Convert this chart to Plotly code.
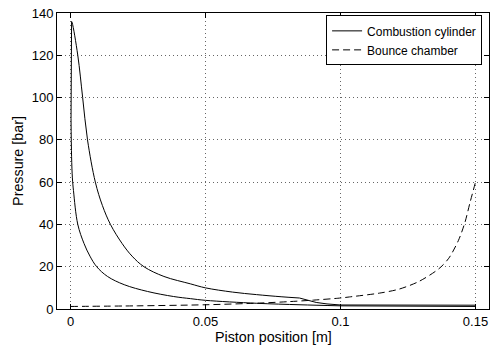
import plotly.graph_objects as go

# Combustion cylinder cycle (piston position [m], pressure [bar])
# compression stroke
comp_x = [0.1, 0.085, 0.069, 0.05, 0.0444, 0.0382, 0.0285, 0.0199, 0.0137,
          0.0097, 0.0072, 0.0050, 0.0027, 0.0011, 0.0007, 0.0004, 0.0002]
comp_p = [1.5, 2.0, 2.7, 4.1, 4.9, 5.9, 8.3, 11.5, 15.4,
          20, 25, 31, 40, 56, 62, 72, 90]
# combustion near top dead centre
tdc_x = [0.0002, 0.0002, 0.0004]
tdc_p = [90, 120, 136]
# expansion stroke
exp_x = [0.0004, 0.0006, 0.0027, 0.0045, 0.0063, 0.0092, 0.0118, 0.0148, 0.0191,
         0.0228, 0.0272, 0.0346, 0.0444, 0.05, 0.06, 0.0689, 0.078, 0.0848]
exp_p = [136, 135.5, 120, 100, 80, 60, 49, 40, 31,
         25, 20, 15.4, 11.9, 10, 8, 6.8, 5.8, 5.2]
# exhaust / scavenging
gas_x = [0.0848, 0.088, 0.091, 0.095, 0.1, 0.15, 0.15, 0.1]
gas_p = [5.2, 4.2, 3.1, 2.4, 1.9, 1.8, 1.2, 1.5]

# Bounce chamber
bounce_x = [0, 0.025, 0.05, 0.07, 0.0811, 0.09, 0.1, 0.1033, 0.1144, 0.1217,
            0.129, 0.1364, 0.1401, 0.1437, 0.1461, 0.148, 0.15]
bounce_p = [1.2, 1.5, 2.0, 2.8, 3.5, 4.2, 5.2, 5.7, 7.5, 9.4,
            13.0, 19.0, 24, 32.5, 41, 50.5, 60]

x_ticks = [0, 0.05, 0.1, 0.15]
x_ticklabels = ["0", "0.05", "0.1", "0.15"]
y_ticks = [0, 20, 40, 60, 80, 100, 120, 140]

solid = dict(color="black", width=1)
fig = go.Figure()
fig.add_trace(go.Scatter(x=comp_x, y=comp_p, mode="lines", name="Combustion cylinder",
                         legendgroup="c", line=dict(shape="spline", smoothing=1.0, **solid)))
fig.add_trace(go.Scatter(x=tdc_x, y=tdc_p, mode="lines", showlegend=False,
                         legendgroup="c", line=solid))
fig.add_trace(go.Scatter(x=exp_x, y=exp_p, mode="lines", showlegend=False,
                         legendgroup="c", line=dict(shape="spline", smoothing=1.0, **solid)))
fig.add_trace(go.Scatter(x=gas_x, y=gas_p, mode="lines", showlegend=False,
                         legendgroup="c", line=solid))
fig.add_trace(go.Scatter(x=bounce_x, y=bounce_p, mode="lines", name="Bounce chamber",
                         line=dict(color="black", width=1, dash="7px,4px",
                                   shape="spline", smoothing=0.8)))

font = "Liberation Sans, Arial, Helvetica, sans-serif"
axis_common = dict(showline=True, linecolor="black", linewidth=1, mirror="ticks",
                   ticks="inside", ticklen=5, tickcolor="black", tickwidth=1,
                   showgrid=True, gridcolor="#666666", griddash="1px,3px", gridwidth=1,
                   zeroline=False, tickfont=dict(family=font, size=13, color="black"))

fig.update_layout(
    width=490, height=346,
    margin=dict(l=57, r=1, t=12.5, b=36.7),
    paper_bgcolor="white", plot_bgcolor="white",
    font=dict(family=font, color="black"),
    xaxis=dict(range=[-0.005, 0.155], tickvals=x_ticks, ticktext=x_ticklabels,
               **axis_common),
    yaxis=dict(range=[0, 140], tickvals=y_ticks,
               title=dict(text="Pressure [bar]", font=dict(size=14.3), standoff=4),
               **axis_common),
    legend=dict(x=0.984, y=0.992, xanchor="right", yanchor="top",
                bordercolor="black", borderwidth=1, bgcolor="white",
                font=dict(family=font, size=12, color="black"),
                tracegroupgap=0, itemwidth=30),
    showlegend=True,
    annotations=[dict(text="Piston position [m]", xref="paper", yref="paper",
                      x=0.5, y=-0.093, xanchor="center", yanchor="middle",
                      showarrow=False, font=dict(family=font, size=14.3, color="black"))],
)

fig.write_html("out.html")
